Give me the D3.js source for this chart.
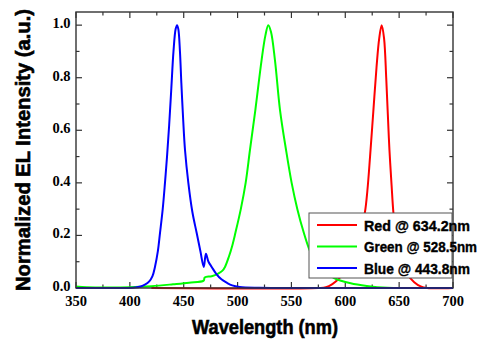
<!DOCTYPE html>
<html>
<head>
<meta charset="utf-8">
<script src="https://cdn.jsdelivr.net/npm/d3@7"></script>
<style>
  html, body { margin: 0; padding: 0; background: #ffffff; }
  svg { display: block; }
</style>
</head>
<body>
<svg id="chart"></svg>
<script>
// Spectra: [wavelength nm, normalized intensity]
const redSpectrum = [
  [420, 0], [575, 0], [582, 0.003], [588, 0.015], [594, 0.035], [600, 0.065],
  [606, 0.11], [611, 0.17], [615, 0.23], [618.3, 0.29], [620.5, 0.37],
  [623, 0.5], [626, 0.67], [629, 0.84], [631.5, 0.95], [633.8, 1.0],
  [636, 0.95], [638, 0.8], [639.5, 0.66], [641, 0.525], [643, 0.39],
  [644.6, 0.29], [647, 0.2], [651, 0.12], [657, 0.055], [664, 0.022],
  [670, 0.006], [676, 0], [700, 0]
];
const greenSpectrum = [
  [350, 0.006], [360, 0.003], [380, 0.002], [400, 0.003], [420, 0.007],
  [440, 0.014], [455, 0.02], [468.5, 0.028], [469.5, 0.04], [476, 0.045],
  [482, 0.055], [486, 0.066], [488.3, 0.08], [492, 0.12], [495, 0.16],
  [498, 0.21], [503, 0.3], [507.5, 0.4], [511.5, 0.525], [516.5, 0.677],
  [522.3, 0.867], [525.8, 0.96], [528.5, 1.0], [531, 0.975], [534.7, 0.867],
  [539.4, 0.677], [545, 0.525], [550.2, 0.4], [555.5, 0.3], [561.5, 0.21],
  [566.3, 0.15], [572, 0.1], [580, 0.065], [590, 0.037], [605, 0.018],
  [620, 0.008], [639, 0.001], [660, 0], [700, 0]
];
const blueSpectrum = [
  [350, 0], [405, 0.002], [410, 0.006], [414, 0.013], [418, 0.025], [421, 0.045],
  [423.3, 0.08], [426, 0.14], [428, 0.21], [430.5, 0.3], [432.6, 0.4],
  [434.5, 0.5], [436.5, 0.62], [438.5, 0.76], [440.5, 0.9], [442.5, 0.985],
  [443.8, 1.0], [445, 0.985], [446.5, 0.9], [447.8, 0.78], [449.5, 0.64],
  [451.2, 0.525], [454.3, 0.4], [458, 0.29], [462, 0.21], [465.5, 0.14],
  [468.6, 0.08], [470.6, 0.13], [473, 0.1], [476, 0.08], [480, 0.055],
  [485, 0.033], [490, 0.02], [495, 0.01], [502, 0.004], [520, 0.001],
  [560, 0], [700, 0]
];

const seriesNames = ['Red @ 634.2nm', 'Green @ 528.5nm', 'Blue @ 443.8nm'];
const seriesColors = ['#ff0000', '#00ff00', '#0000ff'];
const seriesData = [redSpectrum, greenSpectrum, blueSpectrum];

const xTicks = [350, 400, 450, 500, 550, 600, 650, 700];
const yTicks = [0.0, 0.2, 0.4, 0.6, 0.8, 1.0];

// Layout
const width = 483;
const height = 340;
const plot = { left: 76, right: 453, top: 12, bottom: 288 };

const svg = d3.select('#chart')
  .attr('width', width)
  .attr('height', height);

// Scales
const x = d3.scaleLinear().domain([350, 700]).range([plot.left, plot.right]);
const y = d3.scaleLinear().domain([0, 1.05]).range([plot.bottom, plot.top]);

const minorX = d3.range(350, 701, 25);
const minorY = d3.range(0, 1.01, 0.1);

// Inward ticks on all four sides
const axisColor = '#333';
const ticks = svg.append('g').attr('stroke', axisColor).attr('stroke-width', 1.2);

minorX.forEach(v => {
  const len = xTicks.includes(v) ? 6 : 3.5;
  ticks.append('line').attr('x1', x(v)).attr('x2', x(v))
    .attr('y1', plot.bottom).attr('y2', plot.bottom - len);
  ticks.append('line').attr('x1', x(v)).attr('x2', x(v))
    .attr('y1', plot.top).attr('y2', plot.top + len);
});
minorY.forEach((v, i) => {
  const len = i % 2 === 0 ? 6 : 3.5;
  ticks.append('line').attr('y1', y(v)).attr('y2', y(v))
    .attr('x1', plot.left).attr('x2', plot.left + len);
  ticks.append('line').attr('y1', y(v)).attr('y2', y(v))
    .attr('x1', plot.right).attr('x2', plot.right - len);
});

// Tick labels (bold serif)
const serif = '"Liberation Serif", "DejaVu Serif", "Times New Roman", serif';

svg.append('g').selectAll('text')
  .data(xTicks)
  .enter()
  .append('text')
  .attr('x', d => x(d))
  .attr('y', 306)
  .attr('text-anchor', 'middle')
  .style('font-family', serif)
  .style('font-weight', 'bold')
  .style('font-size', '14.5px')
  .text(d => d);

svg.append('g').selectAll('text')
  .data(yTicks)
  .enter()
  .append('text')
  .attr('x', 70.5)
  .attr('y', d => y(d) + 3)
  .attr('text-anchor', 'end')
  .style('font-family', serif)
  .style('font-weight', 'bold')
  .style('font-size', '14.5px')
  .text(d => d.toFixed(1));

// Spectrum lines
const line = d3.line()
  .x(d => x(d[0]))
  .y(d => y(d[1]))
  .curve(d3.curveCatmullRom.alpha(0.5));

svg.append('g').selectAll('path')
  .data(seriesData)
  .enter()
  .append('path')
  .attr('d', d => line(d))
  .attr('fill', 'none')
  .attr('stroke', (d, i) => seriesColors[i])
  .attr('stroke-width', 2);

// Frame
svg.append('rect')
  .attr('x', plot.left)
  .attr('y', plot.top)
  .attr('width', plot.right - plot.left)
  .attr('height', plot.bottom - plot.top)
  .attr('fill', 'none')
  .attr('stroke', axisColor)
  .attr('stroke-width', 1.4);

// Legend - the labels run past the box, as in the original
const sans = '"Liberation Sans", Arial, sans-serif';
const legend = svg.append('g');
legend.append('rect')
  .attr('x', 309)
  .attr('y', 213)
  .attr('width', 143)
  .attr('height', 65)
  .attr('fill', '#ffffff')
  .attr('stroke', '#555')
  .attr('stroke-width', 1);

const legendRows = [225, 246.5, 268];
const legendLengths = [106, 113, 106];
seriesNames.forEach((name, i) => {
  legend.append('line')
    .attr('x1', 317).attr('x2', 357)
    .attr('y1', legendRows[i]).attr('y2', legendRows[i])
    .attr('stroke', seriesColors[i])
    .attr('stroke-width', 2);
  legend.append('text')
    .attr('x', 364)
    .attr('y', legendRows[i] + 5.5)
    .attr('textLength', legendLengths[i])
    .attr('lengthAdjust', 'spacingAndGlyphs')
    .style('font-family', sans)
    .style('font-weight', 'bold')
    .style('font-size', '15.5px')
    .style('stroke', '#000')
    .style('stroke-width', 0.4)
    .text(name);
});

// Axis titles
svg.append('text')
  .attr('x', 265)
  .attr('y', 334)
  .attr('text-anchor', 'middle')
  .attr('textLength', 146)
  .attr('lengthAdjust', 'spacingAndGlyphs')
  .style('font-family', sans)
  .style('font-weight', 'bold')
  .style('font-size', '21px')
  .style('stroke', '#000')
  .style('stroke-width', 0.6)
  .text('Wavelength (nm)');

svg.append('text')
  .attr('transform', 'translate(30,150) rotate(-90)')
  .attr('text-anchor', 'middle')
  .attr('textLength', 282)
  .attr('lengthAdjust', 'spacingAndGlyphs')
  .style('font-family', sans)
  .style('font-weight', 'bold')
  .style('font-size', '21px')
  .style('stroke', '#000')
  .style('stroke-width', 0.6)
  .text('Normalized EL Intensity (a.u.)');
</script>
</body>
</html>
